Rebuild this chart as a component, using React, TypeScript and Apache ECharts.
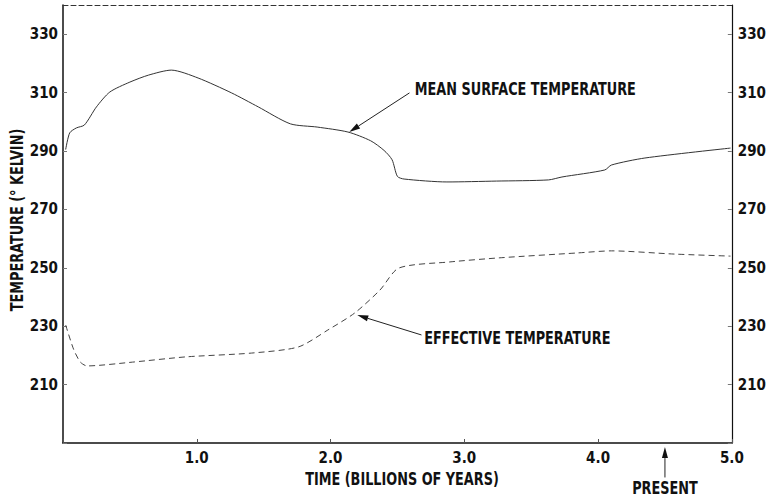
import React, { useEffect, useRef } from "react";
import * as echarts from "echarts";

// Time in billions of years
const surfaceTime = [0.02, 0.05, 0.1, 0.16, 0.25, 0.35, 0.5, 0.64, 0.81, 1.01, 1.26, 1.46, 1.7, 1.9, 2.13, 2.3, 2.4, 2.46, 2.5, 2.55, 2.87, 3.24, 3.63, 3.73, 4.05, 4.1, 4.35, 4.99];
const surfaceTemp = [290.5, 296.2, 297.9, 298.9, 305.1, 310.2, 313.6, 316.0, 317.7, 315.0, 309.9, 305.1, 299.3, 298.2, 296.5, 293.5, 290.2, 287.0, 281.3, 280.4, 279.4, 279.7, 280.1, 281.1, 283.5, 285.2, 287.6, 291.0];

const effectiveTime = [0.02, 0.08, 0.13, 0.18, 0.52, 0.92, 1.41, 1.76, 1.98, 2.18, 2.37, 2.51, 2.89, 3.26, 3.85, 4.1, 4.57, 4.99];
const effectiveTemp = [230.4, 222.0, 217.7, 216.4, 217.7, 219.5, 220.8, 222.9, 228.7, 234.5, 242.4, 249.9, 252.0, 253.4, 255.1, 255.8, 254.7, 254.0];

const xTicks = [0, 1, 2, 3, 4, 5];
const yLabelValues = [210, 230, 250, 270, 290, 310, 330];

const xTitle = "TIME (BILLIONS OF YEARS)";
const yTitle = "TEMPERATURE (° KELVIN)";

// Annotations in data coordinates: head of arrow, tail of arrow, text anchor
const annotations = [
  { text: "MEAN SURFACE TEMPERATURE", head: [2.14, 296.5], tail: [2.59, 309.9], label: [2.63, 311.2], align: "left" },
  { text: "EFFECTIVE TEMPERATURE", head: [2.2, 233.8], tail: [2.68, 227.0], label: [2.7, 226.0], align: "left" },
  { text: "PRESENT", head: [4.5, 188.6], tail: [4.5, 178.2], label: [4.5, 174.6], align: "center" },
];

const FONT = "'DejaVu Sans Condensed', 'DejaVu Sans', sans-serif";
const INK = "#111";
const SQUEEZE = 0.84;

export default function App() {
  const ref = useRef<HTMLDivElement>(null);
  useEffect(() => {
    if (!ref.current) return;
    const chart = echarts.init(ref.current, null, { renderer: "svg" });
    const tickLabel = {
      fontFamily: FONT,
      fontWeight: "bold",
      fontSize: 15,
      color: INK,
    };
    chart.setOption({
      animation: false,
      backgroundColor: "#fff",
      grid: { left: 63, right: 32, top: 5, bottom: 55 },
      xAxis: [
        {
          type: "value",
          min: 0,
          max: 5,
          interval: 1,
          position: "bottom",
          axisLine: { show: true, onZero: false, lineStyle: { color: INK, width: 1.5 } },
          axisTick: { show: true, inside: true, length: 4, lineStyle: { color: "#555" } },
          splitLine: { show: false },
          axisLabel: {
            ...tickLabel,
            margin: 7,
            formatter: (v: number) => (xTicks.includes(v) && v !== 0 ? v.toFixed(1) : ""),
          },
        },
        {
          type: "value",
          min: 0,
          max: 5,
          interval: 1,
          position: "top",
          axisLine: { show: true, onZero: false, lineStyle: { color: "#333", width: 1, type: [5, 3] } },
          axisTick: { show: false },
          axisLabel: { show: false },
          splitLine: { show: false },
        },
      ],
      yAxis: [
        {
          type: "value",
          min: 190,
          max: 340,
          interval: 20,
          position: "left",
          axisLine: { show: true, onZero: false, lineStyle: { color: INK, width: 1.5 } },
          axisTick: { show: true, inside: true, length: 4, lineStyle: { color: "#777" } },
          splitLine: { show: false },
          axisLabel: {
            ...tickLabel,
            margin: 5,
            showMaxLabel: false,
            formatter: (v: number) => (yLabelValues.includes(v) ? String(v) : ""),
          },
        },
        {
          type: "value",
          min: 190,
          max: 340,
          interval: 20,
          position: "right",
          axisLine: { show: true, onZero: false, lineStyle: { color: INK, width: 1.2 } },
          axisTick: { show: true, inside: true, length: 4, lineStyle: { color: "#777" } },
          splitLine: { show: false },
          axisLabel: {
            ...tickLabel,
            margin: 6,
            showMaxLabel: false,
            formatter: (v: number) => (yLabelValues.includes(v) ? String(v) : ""),
          },
        },
      ],
      series: [
        {
          type: "line",
          name: "Mean surface temperature",
          data: surfaceTime.map((t, i) => [t, surfaceTemp[i]]),
          showSymbol: false,
          smooth: 0.25,
          lineStyle: { color: "#333", width: 1 },
        },
        {
          type: "line",
          name: "Effective temperature",
          data: effectiveTime.map((t, i) => [t, effectiveTemp[i]]),
          showSymbol: false,
          smooth: 0.25,
          lineStyle: { color: "#444", width: 1, type: [6, 4] },
        },
      ],
    });

    const px = (p: number[]) => chart.convertToPixel({ xAxisIndex: 0, yAxisIndex: 0 }, p) as number[];
    const textStyle = (text: string, align: string) => ({
      text,
      fontFamily: FONT,
      fontWeight: "bold",
      fontSize: 17,
      fill: INK,
      align,
      verticalAlign: "middle",
    });
    const graphics: any[] = [
      {
        type: "text",
        x: 402,
        y: 479,
        scaleX: SQUEEZE,
        style: textStyle(xTitle, "center"),
        silent: true,
      },
      {
        type: "text",
        x: 17,
        y: 220,
        rotation: Math.PI / 2,
        scaleX: SQUEEZE,
        style: textStyle(yTitle, "center"),
        silent: true,
      },
    ];
    annotations.forEach((a) => {
      const h = px(a.head);
      const t = px(a.tail);
      const l = px(a.label);
      const dx = h[0] - t[0];
      const dy = h[1] - t[1];
      const len = Math.sqrt(dx * dx + dy * dy);
      const ux = dx / len;
      const uy = dy / len;
      const headLen = 11;
      const headW = 3;
      const bx = h[0] - ux * headLen;
      const by = h[1] - uy * headLen;
      graphics.push({
        type: "line",
        shape: { x1: t[0], y1: t[1], x2: bx, y2: by },
        style: { stroke: "#222", lineWidth: 1 },
        silent: true,
      });
      graphics.push({
        type: "polygon",
        shape: {
          points: [
            [h[0], h[1]],
            [bx - uy * headW, by + ux * headW],
            [bx + uy * headW, by - ux * headW],
          ],
        },
        style: { fill: "#111" },
        silent: true,
      });
      graphics.push({
        type: "text",
        x: l[0],
        y: l[1],
        scaleX: SQUEEZE,
        style: textStyle(a.text, a.align),
        silent: true,
      });
    });
    chart.setOption({ graphic: graphics });

    return () => chart.dispose();
  }, []);
  return (
    <div
      ref={ref}
      style={{ position: "fixed", left: 0, top: 0, width: 769, height: 498 }}
    />
  );
}
